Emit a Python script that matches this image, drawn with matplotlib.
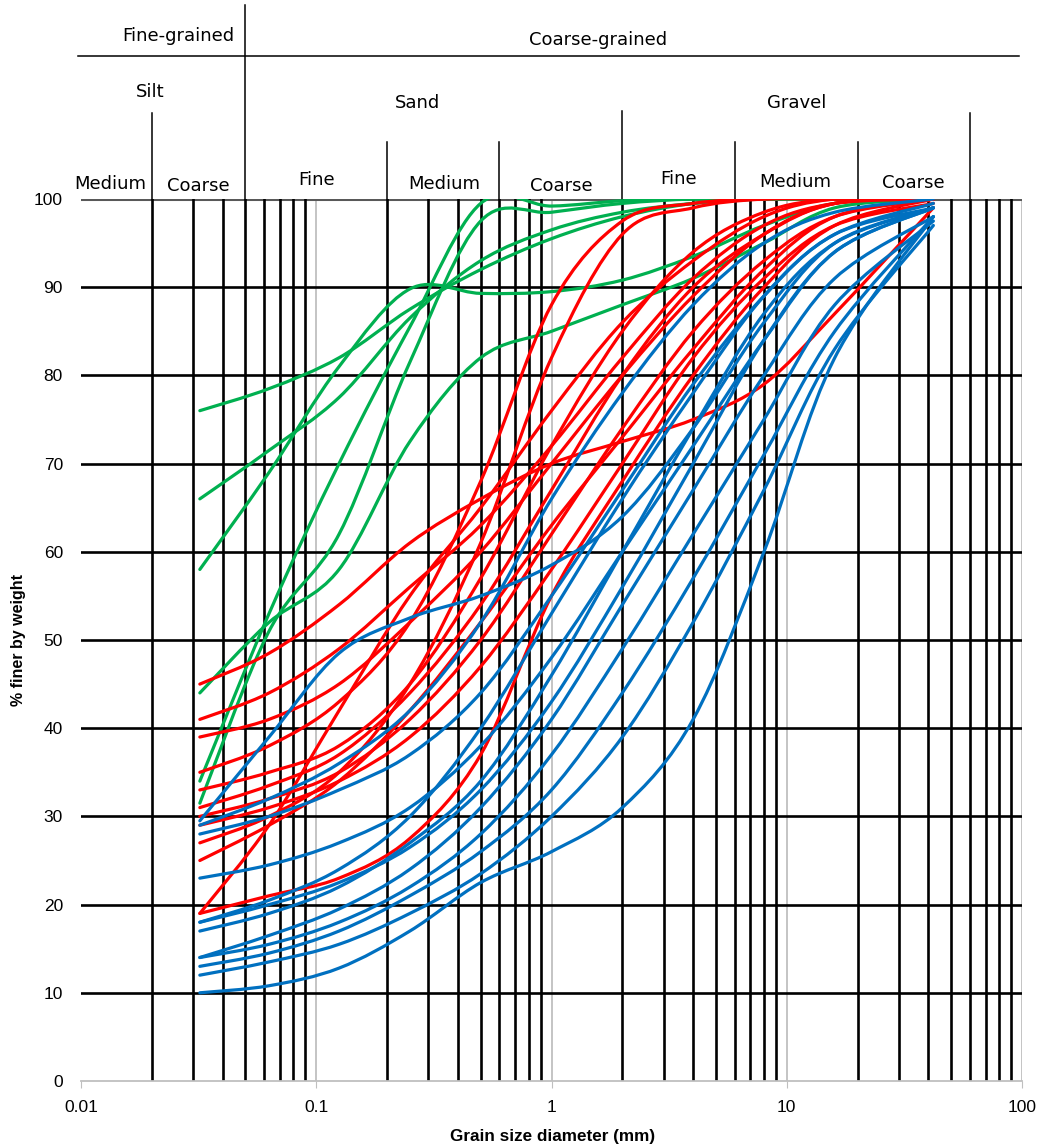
import numpy as np
import matplotlib
matplotlib.use("Agg")
import matplotlib.pyplot as plt
from matplotlib.path import Path
from matplotlib.patches import PathPatch
from matplotlib.transforms import blended_transform_factory

# sieve sizes (mm) shared by all samples
sizes = [0.032, 0.063, 0.125, 0.25, 0.5, 1, 2, 4, 8, 16, 42]

# fine-grained samples (% finer by weight)
green_curves = [
    [76, 78.5, 82, 87.5, 92, 95.5, 98, 99.5, 100, 100, 100],
    [66, 71.5, 77.5, 86.5, 93, 96.5, 98.5, 99.5, 100, 100, 100],
    [58, 69, 81, 89.8, 89.3, 89.5, 90.8, 93.5, 97, 99.5, 100],
    [44, 52, 58, 72.5, 82, 85, 88, 91, 95, 99, 100],
    [34, 53, 70, 85.5, 99.5, 99.2, 99.8, 100, 100, 100, 100],
    [31.5, 51, 62, 81.5, 97.5, 98.5, 99.5, 100, 100, 100, 100],
]

# sandy samples
red_curves = [
    [45, 48.5, 54, 61, 66, 70, 72.5, 75, 79, 87, 99],
    [41, 44, 49, 56, 63, 72, 82, 91, 97, 99.5, 100],
    [39, 41, 45, 52, 60, 70, 80, 89, 96, 99.5, 100],
    [35, 38, 43, 52, 68, 88, 97.5, 99.5, 100, 100, 100],
    [33, 35, 38, 45, 57, 72, 85, 94, 98.5, 100, 100],
    [31, 33.5, 37, 44, 54, 67, 80, 90, 96, 99.5, 100],
    [30, 32, 35, 41, 50, 62, 74, 85, 93, 98, 100],
    [29, 31, 34, 39, 47, 58, 70, 82, 91, 97, 99.5],
    [27, 30, 35, 45, 61, 82, 96, 99, 100, 100, 100],
    [25, 29, 34, 42, 52, 63, 73, 83, 92, 98, 100],
    [19, 29, 42, 55, 65, 76, 86, 93, 98, 100, 100],
    [19, 21, 23, 27.5, 37, 55, 68, 80, 90, 97, 100],
]

# gravelly samples
blue_curves = [
    [29.5, 39, 48.5, 52.5, 55, 58.5, 64, 74, 86, 95, 99],
    [29, 32, 36, 42, 52, 66, 78, 88, 95, 98.5, 100],
    [28, 30, 33, 37, 44, 55, 67, 79, 89, 96, 99],
    [23, 24.5, 27, 31, 38, 48, 60, 72, 84, 94, 99],
    [18, 20.5, 24, 30, 40, 53, 66, 78, 89, 96, 99.5],
    [18, 20, 22.5, 26.5, 33, 43, 56, 70, 84, 94, 99],
    [17, 19, 22, 27, 34, 46, 60, 74, 87, 95, 99],
    [14, 16.5, 19.5, 24, 31, 41, 54, 67, 80, 91, 98],
    [14, 15.5, 18, 22, 28, 37, 49, 62, 75, 88, 97.5],
    [13, 14.5, 17, 21, 26, 33, 44, 57, 71, 85, 98],
    [12, 13.5, 15.5, 19, 23.5, 30, 39, 52, 67, 83, 97],
    [10, 10.8, 12.8, 17, 22.5, 26, 31, 41, 60, 82, 98],
]

x_ticks = [0.01, 0.1, 1, 10, 100]
x_tick_labels = ["0.01", "0.1", "1", "10", "100"]

GREEN = "#00b050"
RED = "#ff0000"
BLUE = "#0070c0"

axis_font = ["Liberation Sans", "DejaVu Sans"]


def smooth_path(xs, ys):
    # Excel-style smoothed line: cubic Bezier segments built in log-x space
    pts = np.column_stack([np.log10(xs), ys]).astype(float)
    n = len(pts)
    verts = [pts[0]]
    codes = [Path.MOVETO]
    for i in range(n - 1):
        p0 = pts[i - 1] if i > 0 else pts[i]
        p1 = pts[i]
        p2 = pts[i + 1]
        p3 = pts[i + 2] if i + 2 < n else pts[i + 1]
        verts += [p1 + (p2 - p0) / 6, p2 - (p3 - p1) / 6, p2]
        codes += [Path.CURVE4] * 3
    verts = np.array(verts)
    verts[:, 0] = 10 ** verts[:, 0]
    return Path(verts, codes)


fig = plt.figure(figsize=(10.45, 11.47), dpi=100)
ax = fig.add_axes([81 / 1045, 66 / 1147, 941 / 1045, 882 / 1147])

ax.set_xscale("log")
ax.set_xlim(0.01, 100)
ax.set_ylim(0, 100)

# grid: black minor verticals, grey decade lines, black horizontals
minor = [m * d for d in [0.01, 0.1, 1, 10] for m in range(2, 10)]
ax.set_xticks(x_ticks)
ax.set_xticklabels(x_tick_labels, family=axis_font, fontsize=12.5)
ax.set_xticks(minor, minor=True)
ax.xaxis.set_minor_formatter(matplotlib.ticker.NullFormatter())
ax.set_yticks(range(0, 101, 10))
ax.set_yticklabels([str(v) for v in range(0, 101, 10)], family=axis_font, fontsize=12.5)
for v in range(10, 100, 10):
    ax.axhline(v, color="black", lw=1.9, zorder=1)
ax.axhline(100, color="#595959", lw=2.2, zorder=1)
for m in minor:
    ax.axvline(m, color="black", lw=1.9, zorder=1)
for d in [0.1, 1, 10, 100]:
    ax.axvline(d, color="#bfbfbf", lw=1.3, zorder=0.9)

for s in ["left", "right", "top"]:
    ax.spines[s].set_visible(False)
ax.spines["bottom"].set_color("#bfbfbf")
ax.spines["bottom"].set_linewidth(1.3)
ax.tick_params(axis="x", which="major", length=5, color="#bfbfbf", pad=9)
ax.tick_params(axis="x", which="minor", length=0)
ax.tick_params(axis="y", length=0, pad=13)

fig.text(553 / 1045, 1 - 1136 / 1147, "Grain size diameter (mm)", family=axis_font,
         fontsize=12.3, fontweight="bold", ha="center", va="center")
fig.text(19 / 1045, 1 - 640 / 1147, "% finer by weight", family=axis_font,
         fontsize=11.5, fontweight="bold", ha="center", va="center", rotation=90)

# grading curves
for group, color in [(green_curves, GREEN), (red_curves, RED), (blue_curves, BLUE)]:
    for ys in group:
        ax.add_patch(PathPatch(smooth_path(sizes, ys), fill=False,
                               edgecolor=color, lw=2.3, zorder=3,
                               capstyle="round", joinstyle="round"))

# soil classification header above the plot
tr = blended_transform_factory(ax.transData, ax.transAxes)


def ya(py):
    return (1081 - py) / 882


def vline(x, top):
    ax.plot([x, x], [ya(top), 1.0], color="black", lw=1.1,
            transform=tr, clip_on=False)


vline(0.05, 5)
vline(0.02, 113)
vline(2, 111)
vline(60, 113)
for x in [0.2, 0.6, 6, 20]:
    vline(x, 142)
ax.plot([-0.003, 0.997], [ya(56), ya(56)], color="black", lw=1.1,
        transform=ax.transAxes, clip_on=False)

hdr = dict(family="DejaVu Sans", fontsize=13, ha="center", va="center",
           transform=tr, clip_on=False)
ax.text(0.026, ya(36), "Fine-grained", **hdr)
ax.text(1.58, ya(40), "Coarse-grained", **hdr)
ax.text(0.0197, ya(92), "Silt", **hdr)
ax.text(0.27, ya(103), "Sand", **hdr)
ax.text(11, ya(103), "Gravel", **hdr)

sub = [(0.0133, "Medium", 184), (0.0316, "Coarse", 186), (0.1, "Fine", 180),
       (0.35, "Medium", 184), (1.1, "Coarse", 186), (3.46, "Fine", 179),
       (10.9, "Medium", 182), (34.6, "Coarse", 183)]
for x, label, py in sub:
    ax.text(x, ya(py), label, **hdr)

fig.savefig("out.png", dpi=100)
